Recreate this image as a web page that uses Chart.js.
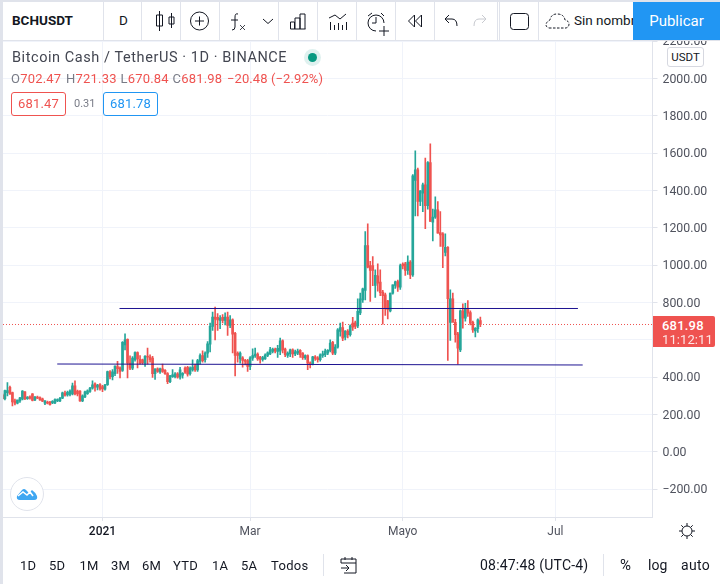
<!DOCTYPE html>
<html><head><meta charset="utf-8">
<script src="https://cdn.jsdelivr.net/npm/chart.js@4"></script>
<style>
html,body{margin:0;padding:0;background:#fff;overflow:hidden}
body{width:720px;height:584px;position:relative;font-family:Roboto,sans-serif;color:#131722}
canvas{position:absolute;left:0;top:0}
.t{position:absolute;white-space:nowrap;line-height:1}
.bar{position:absolute;background:#e0e3eb}
svg{position:absolute;overflow:visible;fill:none;stroke:#131722;stroke-width:1}
#top{position:absolute;left:0;top:0;width:720px;height:41px;background:#fff;overflow:hidden}
.b{font-size:13px;top:559px;letter-spacing:.3px}
</style></head><body>
<canvas id="c" width="720" height="584"></canvas>
<div id="top">
 <div class="t" style="left:12px;top:14px;font-size:13.5px;font-weight:700">BCHUSDT</div>
 <div class="t" style="left:119px;top:14px;font-size:13.5px">D</div>
 <svg style="left:150px;top:10px" width="30" height="22"><path d="M9.500 1v20M6.500 5h6v11h-6zM21.500 3v15M19 7h5v7h-5z"/></svg>
 <svg style="left:190px;top:11px" width="20" height="20"><circle cx="9.500" cy="10" r="9"/><path d="M5 10h9M9.500 5.500v9"/></svg>
 <svg style="left:230px;top:11px" width="20" height="20"><path d="M8 3q-3-1-3 3v10q0 3-3 3M1 9h7"/><path d="M10 14l5 5M15 14l-5 5" stroke-width=".8"/></svg>
 <svg style="left:262px;top:18px" width="12" height="8"><path d="M1 1l5 4.500l5-4.500"/></svg>
 <svg style="left:289px;top:13px" width="18" height="17"><path d="M1.500 16h15M1.500 16V9h4v7M6 16V5h5v11M11 16V1h5v15"/></svg>
 <svg style="left:328px;top:11px" width="20" height="20"><path d="M1 7l6-3l5 4l6-5M2.500 19v-8M6.500 19v-5M10.500 19v-7M14.500 19v-5M18.500 19v-8"/></svg>
 <svg style="left:366px;top:11px" width="22" height="21"><path d="M18 12a8 8 0 1 0-8 8M10 6v6H6M2 5l4-3M18 5l-3-3M13 20h10M18 15v10"/></svg>
 <svg style="left:407px;top:14px" width="16" height="14"><path d="M7.500 1l-6 6l6 6zM14.500 1l-6 6l6 6z"/></svg>
 <svg style="left:444px;top:14px" width="14" height="14"><path d="M5 1L1 5l4 4M1 5h7q5 0 5 7"/></svg>
 <svg style="left:473px;top:14px" width="14" height="14"><path d="M9 1l4 4l-4 4M13 5H6q-5 0-5 7" style="stroke:#c8cad0"/></svg>
 <svg style="left:510px;top:13px" width="19" height="18"><rect x=".5" y=".5" width="18" height="16" rx="3"/></svg>
 <svg style="left:545px;top:13px" width="25" height="16"><path stroke-dasharray="2.500 1.500" d="M4 15H21Q24 14 24 11Q24 8 20 7Q19 1 12 1Q6 1 5 7Q1 9 1 12Q1 14 4 15"/></svg>
 <div class="t" style="left:574px;top:14px;font-size:13.5px">Sin nombre</div>
 <div style="position:absolute;left:633px;top:2px;width:87px;height:38px;background:#2196f3;color:#fff;font-size:15px;text-align:center;line-height:38px">Publicar</div>
 <div class="bar" style="left:0;top:0;width:720px;height:2px"></div>
 <div class="bar" style="left:0;top:40px;width:720px;height:1px"></div>
 <div class="bar" style="left:103px;top:2px;width:1px;height:38px"></div>
 <div class="bar" style="left:141px;top:2px;width:1px;height:38px"></div>
 <div class="bar" style="left:180px;top:2px;width:1px;height:38px"></div>
 <div class="bar" style="left:219px;top:2px;width:1px;height:38px"></div>
 <div class="bar" style="left:278px;top:2px;width:1px;height:38px"></div>
 <div class="bar" style="left:317px;top:2px;width:1px;height:38px"></div>
 <div class="bar" style="left:356px;top:2px;width:1px;height:38px"></div>
 <div class="bar" style="left:395px;top:2px;width:1px;height:38px"></div>
 <div class="bar" style="left:434px;top:2px;width:1px;height:38px"></div>
 <div class="bar" style="left:497px;top:2px;width:1px;height:38px"></div>
 <div class="bar" style="left:499px;top:2px;width:1px;height:38px"></div>
 <div class="bar" style="left:538px;top:2px;width:1px;height:38px"></div>
</div>
<div class="bar" style="left:0;top:0;width:3px;height:584px"></div>

<div class="t" style="left:12px;top:51px;font-size:14.5px;color:#434651;letter-spacing:.57px">Bitcoin Cash / TetherUS · 1D · BINANCE</div>
<div style="position:absolute;left:304px;top:49px;width:17px;height:17px;border-radius:50%;background:#dff1ef"></div>
<div style="position:absolute;left:308px;top:53px;width:9px;height:9px;border-radius:50%;background:#089981"></div>
<div class="t" style="left:11px;top:71.500px;font-size:13px;color:#ef5350;letter-spacing:.2px"><span style="color:#787b86">O</span>702.47</div>
<div class="t" style="left:66px;top:71.500px;font-size:13px;color:#ef5350;letter-spacing:.2px"><span style="color:#787b86">H</span>721.33</div>
<div class="t" style="left:120.500px;top:71.500px;font-size:13px;color:#ef5350;letter-spacing:.2px"><span style="color:#787b86">L</span>670.84</div>
<div class="t" style="left:172.500px;top:71.500px;font-size:13px;color:#ef5350;letter-spacing:.2px"><span style="color:#787b86">C</span>681.98</div>
<div class="t" style="left:227px;top:71.500px;font-size:13px;color:#ef5350;letter-spacing:.1px">−20.48 (−2.92%)</div>
<div class="t" style="left:11px;top:92px;width:53px;height:22px;border:1px solid #ef5350;border-radius:3px;color:#ef5350;font-size:13px;letter-spacing:.2px;line-height:22px;text-align:center">681.47</div>
<div class="t" style="left:74px;top:98px;font-size:11px;color:#787b86">0.31</div>
<div class="t" style="left:103px;top:92px;width:53px;height:22px;border:1px solid #2196f3;border-radius:3px;color:#2196f3;font-size:13px;letter-spacing:.2px;line-height:22px;text-align:center">681.78</div>

<div class="t" style="left:667px;top:47px;width:35px;height:18px;border:1px solid #d6d8e0;border-radius:3px;background:#fff;font-size:11.5px;line-height:18px;text-align:center">USDT</div>

<div style="position:absolute;left:653px;top:316px;width:62px;height:31px;background:#ef5350;border-radius:0 2px 2px 0;color:#fff;text-align:left">
 <div class="t" style="left:9px;top:3px;font-size:13px;font-weight:500;letter-spacing:.2px">681.98</div>
 <div class="t" style="left:9px;top:17px;font-size:13px;opacity:.85;letter-spacing:.1px">11:12:11</div>
</div>

<div style="position:absolute;left:10px;top:477px;width:32px;height:32px;border:1px solid #e0e3eb;border-radius:50%;background:#fff"></div>
<svg style="left:16px;top:487px;stroke:none" width="22" height="14"><path fill="#3fa7f2" d="M1 9l5-6q2-2 4 0l3 3l3-3q3 2 5 6q1 4-3 4H4q-4 0-3-4z"/><path d="M2 9l5-4l4 3l3-3l3 4" stroke="#fff" stroke-width="1.500"/></svg>

<div class="t b" style="left:20px">1D</div>
<div class="t b" style="left:49px">5D</div>
<div class="t b" style="left:79.500px">1M</div>
<div class="t b" style="left:111px">3M</div>
<div class="t b" style="left:142px">6M</div>
<div class="t b" style="left:173px">YTD</div>
<div class="t b" style="left:212px">1A</div>
<div class="t b" style="left:241px">5A</div>
<div class="t b" style="left:271px">Todos</div>
<div class="bar" style="left:323px;top:554px;width:1px;height:22px"></div>
<svg style="left:340px;top:556px" width="18" height="18"><path d="M1 7V3h15v14H4M1 7h15M5 1v3M12 1v3M1 12h8M6 9l3 3l-3 3"/></svg>
<div class="t" style="left:480px;top:558px;font-size:14px;letter-spacing:.2px">08:47:48 (UTC-4)</div>
<div class="bar" style="left:603px;top:554px;width:1px;height:22px"></div>
<div class="t" style="left:620px;top:558px;font-size:15px">%</div>
<div class="t" style="left:648px;top:558px;font-size:14px">log</div>
<div class="t" style="left:681px;top:558px;font-size:14px;letter-spacing:.3px">auto</div>
<svg style="left:679px;top:523px" width="16" height="16"><circle cx="8" cy="8" r="5"/><path d="M8 0v3M8 13v3M0 8h3M13 8h3M2.300 2.300l2 2M11.700 11.700l2 2M2.300 13.700l2-2M11.700 4.300l2-2"/></svg>

<script>
const firstDay = -40; // days relative to 1 Jan 2021 (22 Nov 2020)
const opens = [305,284,317,346,317,273,260,273,282,321,284,294,310,278,293,291,284,260,267,267,262,262,273,273,287,314,305,307,310,353,325,325,273,294,312,323,341,364,346,360,350,335,360,428,403,418,457,450,436,573,603,475,448,493,532,496,493,475,511,507,502,418,445,428,445,436,419,376,403,403,418,400,411,448,452,418,439,461,439,484,516,493,529,577,672,722,720,704,720,704,722,677,707,635,529,498,504,488,488,457,502,514,523,507,495,498,516,525,538,550,538,539,595,550,516,525,546,525,529,543,529,504,516,477,471,509,504,493,516,520,529,543,586,529,561,645,666,614,647,627,689,691,675,744,814,864,1105,998,998,891,943,909,855,841,809,755,850,891,912,882,1005,1007,971,1016,948,1454,1511,1341,1386,1430,1318,1550,1230,1257,1296,1175,1168,1068,1095,693,820,693,632,546,755,716,769,746,693,648,659,702.47];
const highs = [310,330,371,352,320,282,275,292,328,322,296,300,312,296,298,295,288,275,272,270,274,284,284,292,320,325,325,332,368,380,330,328,305,325,332,345,380,370,362,365,356,362,432,435,440,460,485,455,590,632,605,514,510,535,536,515,497,515,555,520,512,445,450,448,470,440,425,410,440,425,425,452,425,455,458,455,493,470,495,525,541,535,590,690,748,775,740,730,735,745,748,730,712,640,535,535,510,495,495,510,552,556,530,512,512,525,535,560,555,555,570,609,600,555,535,550,552,545,550,548,532,520,520,482,512,515,510,525,540,550,548,600,592,575,660,690,695,650,655,680,720,700,820,850,877,1180,1221,1020,1046,975,1007,975,865,850,812,850,895,915,920,1005,1012,1015,1050,1025,1485,1612,1520,1400,1440,1573,1555,1650,1300,1366,1341,1287,1175,1168,1100,868,850,710,640,760,793,796,810,755,700,665,712,721.33];
const lows = [280,278,300,308,246,251,256,265,278,279,280,282,272,274,284,275,268,252,256,250,258,258,268,268,284,298,298,300,305,305,300,270,268,290,308,318,335,325,332,330,322,330,355,390,385,408,420,396,430,546,396,440,440,485,450,470,470,458,470,480,398,388,425,420,425,415,365,370,398,396,395,389,395,420,405,410,432,430,430,470,480,480,505,535,650,600,650,660,690,680,623,665,530,407,480,475,454,465,430,440,490,505,490,475,485,495,510,520,530,530,505,520,530,510,505,510,505,515,520,505,495,495,440,450,465,490,480,485,505,510,520,535,520,520,555,620,595,600,610,620,650,660,665,735,800,814,985,805,890,827,860,837,684,730,712,750,845,875,859,870,980,945,950,927,939,1264,1264,1318,1287,1195,1300,1234,1130,1250,1171,1100,987,1050,489,596,700,587,469,537,662,700,725,680,640,615,640,670.84];
const closes = [284,328,328,310,267,260,278,289,325,284,293,287,275,294,287,278,271,273,260,253,271,280,280,287,316,303,319,325,353,310,310,273,300,321,326,342,359,346,357,337,337,359,430,401,428,459,445,430,587,600,475,448,502,532,497,475,478,511,507,493,418,445,430,445,430,419,376,407,412,418,400,439,421,427,416,448,454,439,489,516,488,529,579,672,722,711,707,716,704,722,677,707,630,516,516,529,489,484,457,504,516,523,498,495,505,518,530,546,550,539,554,595,546,520,529,546,525,536,539,520,504,516,475,471,509,500,493,520,525,539,543,582,529,561,654,666,609,647,627,675,668,672,752,820,873,1105,989,971,971,945,903,853,837,769,761,850,895,911,882,998,996,971,1016,948,1479,1511,1341,1398,1430,1318,1550,1234,1257,1296,1171,1162,1100,1095,820,820,693,627,555,755,716,769,743,689,653,662,707,681.98];

const priceTicks = [-200,0,200,400,600,800,1000,1200,1400,1600,1800,2000,2200];
const timeTickDays = [0,59,120,181];
const timeTickLabels = ['2021','Mar','Mayo','Jul'];
const lastPrice = 681.98;
const upperLineDays = [6.8,190.0];
const upperLineValues = [767.7,767.7];
const lowerLineDays = [-18.1,191.9];
const lowerLineValues = [470.3,465.0];

const up='#26a69a', down='#ef5350';
const colors = closes.map((c,i)=> c>=opens[i]?up:down);
const days = closes.map((_,i)=>firstDay+i);
const xMin=-39.77, xMax=219.8, yMin=-349.3, yMax=2200.7;
// the reference's axis text sits one pixel lower than canvas "middle" baseline
const nudgeLabels = (s,dy)=>{
  if(s._nudged) return; s._nudged=true;
  const orig=s._computeLabelItems.bind(s);
  s._computeLabelItems=a=>{const r=orig(a); r.forEach(it=>{it.options.translation=[it.options.translation[0],it.options.translation[1]+dy];}); return r;};
};

new Chart(document.getElementById('c'),{
 type:'bar',
 data:{datasets:[
  {type:'line',label:'upper',order:0,data:upperLineDays.map((d,i)=>({x:d,y:upperLineValues[i]})),borderColor:'#1d1391',borderWidth:1,pointRadius:0},
  {type:'line',label:'lower',order:0,data:lowerLineDays.map((d,i)=>({x:d,y:lowerLineValues[i]})),borderColor:'#1d1391',borderWidth:1,pointRadius:0},
  {label:'body',order:1,data:days.map((d,i)=>({x:d,y:[opens[i],closes[i]]})),backgroundColor:colors,barThickness:2,grouped:false,minBarLength:1},
  {label:'wick',order:2,data:days.map((d,i)=>({x:d,y:[lows[i],highs[i]]})),backgroundColor:colors,barThickness:1,grouped:false},
  {type:'line',label:'last',order:3,data:[{x:xMin,y:lastPrice},{x:xMax,y:lastPrice}],borderColor:'#ef5350',borderWidth:1,borderDash:[1,2],pointRadius:0}
 ]},
 options:{
  responsive:false,animation:false,devicePixelRatio:1,
  layout:{padding:{left:3,top:41,right:0,bottom:0}},
  plugins:{legend:{display:false},tooltip:{enabled:false}},
  scales:{
   x:{type:'linear',min:xMin,max:xMax,offset:false,
    grid:{offset:false,color:'#f0f3fa',tickColor:'#e0e3eb',tickLength:4,drawTicks:true},
    border:{color:'#e0e3eb'},
    afterBuildTicks:s=>{s.ticks=timeTickDays.map(v=>({value:v}));},
    afterFit:s=>{s.height=67;},
    ticks:{autoSkip:false,maxRotation:0,padding:4,callback:(v,i)=>timeTickLabels[i],
      font:c=>({family:'Roboto',size:12,weight:c.index===0?'500':'400'}),
      color:c=>c.index===0?'#131722':'#50535e'}
   },
   y:{position:'right',min:yMin,max:yMax,
    grid:{color:'#f0f3fa',tickColor:'#e0e3eb',tickLength:5},
    border:{color:'#e0e3eb'},
    afterBuildTicks:s=>{s.ticks=priceTicks.map(v=>({value:v}));},
    afterFit:s=>{s.width=67.5;nudgeLabels(s,1);},
    ticks:{autoSkip:false,padding:5,align:'center',crossAlign:'near',color:'#50535e',font:{family:'Roboto',size:12.3},
      callback:v=>(v<0?'−':'')+Math.abs(v).toFixed(2)}
   }
  }
 }
});
</script>
</body></html>
